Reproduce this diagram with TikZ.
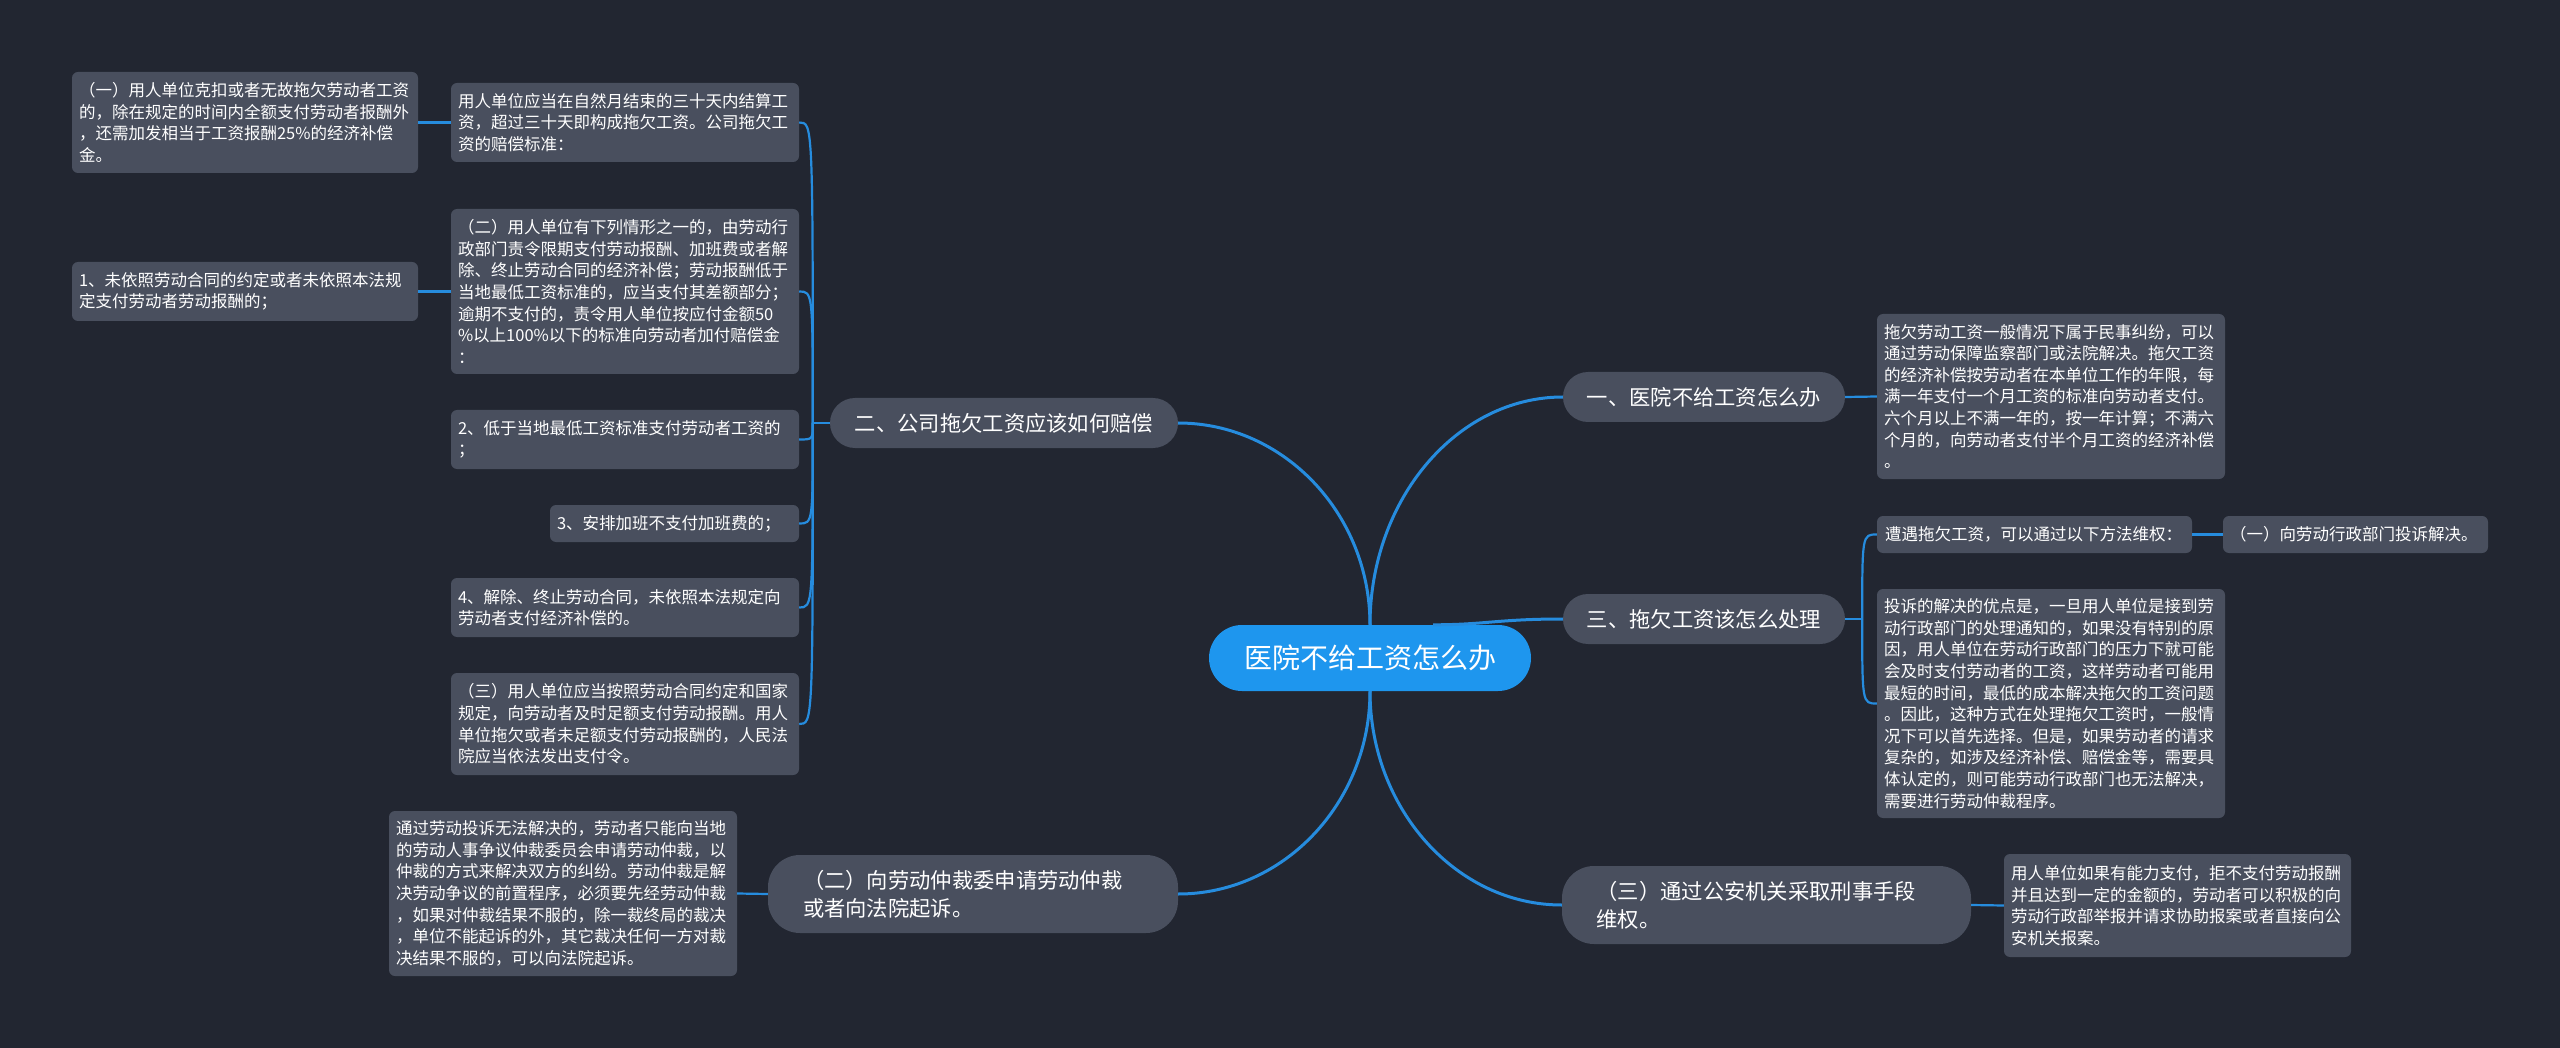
\documentclass[tikz,border=0pt]{standalone}
\usepackage{fontspec}
\setmainfont{Noto Sans CJK SC}
\usetikzlibrary{calc}
\definecolor{bgc}{RGB}{34,38,49}
\definecolor{boxc}{RGB}{73,79,94}
\definecolor{linec}{RGB}{38,140,222}
\definecolor{rootc}{RGB}{30,150,238}
\tikzset{
  txtbox/.style={fill=boxc, rounded corners=6pt, text=white, align=left, inner sep=0pt,
    font=\fontsize{16.5}{21.6}\selectfont},
  pill/.style={fill=boxc, rounded corners=25pt, text=white, align=center, inner sep=0pt,
    font=\fontsize{21.3}{28}\selectfont},
  pilltwo/.style={fill=boxc, rounded corners=32pt, text=white, align=left, inner sep=0pt,
    font=\fontsize{21.3}{28}\selectfont},
  rootpill/.style={fill=rootc, rounded corners=33pt, text=white, inner sep=0pt,
    font=\fontsize{28}{34}\selectfont},
  mainline/.style={draw=linec, line width=3pt},
  subline/.style={draw=linec, line width=2.2pt},
}
\begin{document}
\begin{tikzpicture}[x=1pt,y=-1pt]
\fill[bgc] (0,0) rectangle (2560,1048);
\useasboundingbox (0,0) rectangle (2560,1048);

% root
\node[rootpill, minimum width=322pt, minimum height=66pt] (c) at (1370,658) {医院不给工资怎么办};

% left branch 二
\node[pill, minimum width=348pt, minimum height=50pt] (p2) at (1004,423) {二、公司拖欠工资应该如何赔偿};
\node[txtbox, minimum width=348pt, minimum height=79pt, text width=334pt] (b1) at (625,122.5)
 {用人单位应当在自然月结束的三十天内结算工\\资，超过三十天即构成拖欠工资。公司拖欠工\\资的赔偿标准：};
\node[txtbox, minimum width=346pt, minimum height=101pt, text width=332pt] (a1) at (245,122.5)
 {（一）用人单位克扣或者无故拖欠劳动者工资\\的，除在规定的时间内全额支付劳动者报酬外\\，还需加发相当于工资报酬25\%的经济补偿\\金。};
\node[txtbox, minimum width=348pt, minimum height=165pt, text width=334pt] (b2) at (625,291.5)
 {（二）用人单位有下列情形之一的，由劳动行\\政部门责令限期支付劳动报酬、加班费或者解\\除、终止劳动合同的经济补偿；劳动报酬低于\\当地最低工资标准的，应当支付其差额部分；\\逾期不支付的，责令用人单位按应付金额50\\\%以上100\%以下的标准向劳动者加付赔偿金\\：};
\node[txtbox, minimum width=346pt, minimum height=59pt, text width=332pt] (n1) at (245,291.5)
 {1、未依照劳动合同的约定或者未依照本法规\\定支付劳动者劳动报酬的；};
\node[txtbox, minimum width=348pt, minimum height=59pt, text width=334pt] (b3) at (625,439.5)
 {2、低于当地最低工资标准支付劳动者工资的\\；};
\node[txtbox, minimum width=249pt, minimum height=37pt, text width=235pt] (b4) at (674.5,523.5)
 {3、安排加班不支付加班费的；};
\node[txtbox, minimum width=348pt, minimum height=59pt, text width=334pt] (b5) at (625,607.5)
 {4、解除、终止劳动合同，未依照本法规定向\\劳动者支付经济补偿的。};
\node[txtbox, minimum width=348pt, minimum height=102pt, text width=334pt] (b6) at (625,724)
 {（三）用人单位应当按照劳动合同约定和国家\\规定，向劳动者及时足额支付劳动报酬。用人\\单位拖欠或者未足额支付劳动报酬的，人民法\\院应当依法发出支付令。};

% left bottom branch
\node[pilltwo, minimum width=410pt, minimum height=78pt, text width=340pt] (q2) at (973,894)
 {（二）向劳动仲裁委申请劳动仲裁\\或者向法院起诉。};
\node[txtbox, minimum width=348pt, minimum height=165pt, text width=334pt] (t2) at (563,893.5)
 {通过劳动投诉无法解决的，劳动者只能向当地\\的劳动人事争议仲裁委员会申请劳动仲裁，以\\仲裁的方式来解决双方的纠纷。劳动仲裁是解\\决劳动争议的前置程序，必须要先经劳动仲裁\\，如果对仲裁结果不服的，除一裁终局的裁决\\，单位不能起诉的外，其它裁决任何一方对裁\\决结果不服的，可以向法院起诉。};

% right branch 一
\node[pill, minimum width=282pt, minimum height=50pt] (p1) at (1704,397) {一、医院不给工资怎么办};
\node[txtbox, minimum width=348pt, minimum height=165pt, text width=334pt] (r1) at (2051,396.5)
 {拖欠劳动工资一般情况下属于民事纠纷，可以\\通过劳动保障监察部门或法院解决。拖欠工资\\的经济补偿按劳动者在本单位工作的年限，每\\满一年支付一个月工资的标准向劳动者支付。\\六个月以上不满一年的，按一年计算；不满六\\个月的，向劳动者支付半个月工资的经济补偿\\。};

% right branch 三
\node[pill, minimum width=282pt, minimum height=50pt] (p3) at (1704,619) {三、拖欠工资该怎么处理};
\node[txtbox, minimum width=315pt, minimum height=37pt, text width=299pt] (r2) at (2034.5,534.5)
 {遭遇拖欠工资，可以通过以下方法维权：};
\node[txtbox, minimum width=265pt, minimum height=37pt, text width=251pt] (r3) at (2355.5,534.5)
 {（一）向劳动行政部门投诉解决。};
\node[txtbox, minimum width=348pt, minimum height=229pt, text width=334pt] (r4) at (2051,703.5)
 {投诉的解决的优点是，一旦用人单位是接到劳\\动行政部门的处理通知的，如果没有特别的原\\因，用人单位在劳动行政部门的压力下就可能\\会及时支付劳动者的工资，这样劳动者可能用\\最短的时间，最低的成本解决拖欠的工资问题\\。因此，这种方式在处理拖欠工资时，一般情\\况下可以首先选择。但是，如果劳动者的请求\\复杂的，如涉及经济补偿、赔偿金等，需要具\\体认定的，则可能劳动行政部门也无法解决，\\需要进行劳动仲裁程序。};

% right bottom branch
\node[pilltwo, minimum width=409pt, minimum height=78pt, text width=340pt] (q3) at (1766.5,905)
 {（三）通过公安机关采取刑事手段\\维权。};
\node[txtbox, minimum width=347pt, minimum height=103pt, text width=333pt] (r5) at (2177.5,905.5)
 {用人单位如果有能力支付，拒不支付劳动报酬\\并且达到一定的金额的，劳动者可以积极的向\\劳动行政部举报并请求协助报案或者直接向公\\安机关报案。};

% main connectors
\draw[mainline] (c.north) .. controls ($(c.north)!0.55!(c.north |- p2.east)$) and ($(p2.east)!0.55!(c.north |- p2.east)$) .. (p2.east);
\draw[mainline] (c.north) .. controls ($(c.north)!0.55!(c.north |- p1.west)$) and ($(p1.west)!0.55!(c.north |- p1.west)$) .. (p1.west);
\draw[mainline] (c.south) .. controls ($(c.south)!0.55!(c.south |- q2.east)$) and ($(q2.east)!0.55!(c.south |- q2.east)$) .. (q2.east);
\draw[mainline] (c.south) .. controls ($(c.south)!0.55!(c.south |- q3.west)$) and ($(q3.west)!0.55!(c.south |- q3.west)$) .. (q3.west);
\coordinate (c3) at ($(c.north)+(63,0)$);
\draw[mainline] (c3) .. controls ($(c3)!0.4!(c3 -| p3.west)$) and ($(p3.west)!0.5!(c3 |- p3.west)$) .. (p3.west);

% left sub connectors
\coordinate (j2) at ($(p2.west)+(-17,0)$);
\draw[subline] (p2.west) -- (j2);
\foreach \n in {b1,b2,b3,b4,b5,b6}
  \draw[subline] (j2) .. controls (j2 |- \n.east) .. (\n.east);
\draw[subline] (b1.west) -- (a1.east);
\draw[subline] (b2.west) -- (n1.east);
\draw[subline] (q2.west) -- (t2.east);

% right sub connectors
\draw[subline] (p1.east) -- (r1.west);
\coordinate (j3) at ($(p3.east)+(17,0)$);
\draw[subline] (p3.east) -- (j3);
\foreach \n in {r2,r4}
  \draw[subline] (j3) .. controls (j3 |- \n.west) .. (\n.west);
\draw[subline] (r2.east) -- (r3.west);
\draw[subline] (q3.east) -- (r5.west);
\end{tikzpicture}
\end{document}
